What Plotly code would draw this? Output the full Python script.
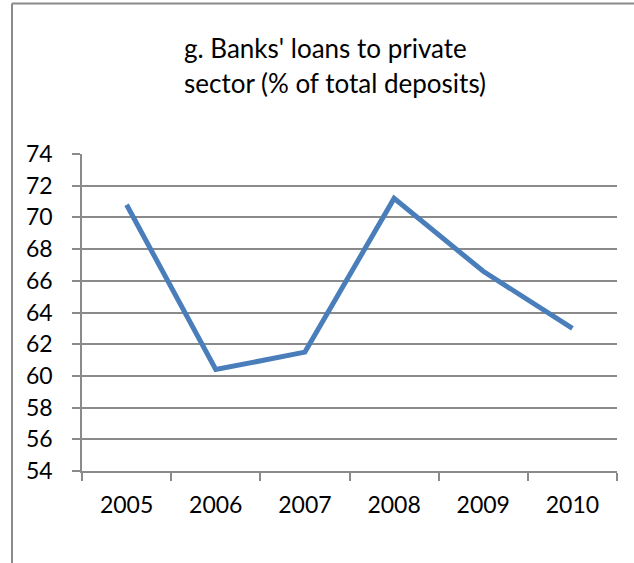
import plotly.graph_objects as go

# Data
years = ["2005", "2006", "2007", "2008", "2009", "2010"]
loans_pct = [70.8, 60.4, 61.5, 71.2, 66.6, 63.0]
y_ticks = [54, 56, 58, 60, 62, 64, 66, 68, 70, 72, 74]

W, H = 634, 563
ML, MR, MT, MB = 82, 17, 154, 92
pw, ph = W - ML - MR, H - MT - MB


def px_x(x):
    return (x - ML) / pw


def px_y(y):
    return (H - MB - y) / ph


FONT = "Lato"
GRID = "#8a8a8a"
TICK_SIZE = 23
TITLE_SIZE = 26

fig = go.Figure()
fig.add_trace(go.Scatter(
    x=years, y=loans_pct, mode="lines",
    line=dict(color="#4a7ebb", width=5),
    hoverinfo="skip", showlegend=False,
))

fig.update_layout(
    width=W, height=H,
    margin=dict(l=ML, r=MR, t=MT, b=MB),
    paper_bgcolor="white", plot_bgcolor="white",
    font=dict(family=FONT, size=TICK_SIZE, color="#000000"),
    showlegend=False,
    xaxis=dict(
        type="category", range=[-0.5, 5.5],
        showgrid=False, showline=True, linecolor=GRID, linewidth=1.5,
        ticks="outside", tickson="boundaries", ticklen=8, tickcolor=GRID, tickwidth=1.5,
        ticklabelstandoff=13,
        tickfont=dict(family=FONT, size=TICK_SIZE, color="#000000"),
        zeroline=False, fixedrange=True,
    ),
    yaxis=dict(
        range=[54, 74], tickmode="array", tickvals=y_ticks,
        ticktext=[str(v) for v in y_ticks],
        showgrid=True, gridcolor=GRID, gridwidth=1.5,
        showline=True, linecolor=GRID, linewidth=1.5,
        ticks="outside", ticklen=8, tickcolor=GRID, tickwidth=1.5,
        ticklabelstandoff=15,
        tickfont=dict(family=FONT, size=TICK_SIZE, color="#000000"),
        zeroline=False, fixedrange=True,
    ),
    annotations=[
        dict(text="g. Banks' loans to private", xref="paper", yref="paper",
             x=px_x(182), y=px_y(48), xanchor="left", yanchor="middle",
             showarrow=False, font=dict(family=FONT, size=TITLE_SIZE, color="#000000")),
        dict(text="sector (% of total deposits)", xref="paper", yref="paper",
             x=px_x(182), y=px_y(83), xanchor="left", yanchor="middle",
             showarrow=False, font=dict(family=FONT, size=TITLE_SIZE, color="#000000")),
    ],
    shapes=[
        # chart frame: top and left edges
        dict(type="line", xref="paper", yref="paper",
             x0=px_x(12), x1=px_x(W + 2), y0=px_y(3.5), y1=px_y(3.5),
             line=dict(color=GRID, width=2)),
        dict(type="line", xref="paper", yref="paper",
             x0=px_x(12), x1=px_x(12), y0=px_y(3.5), y1=px_y(H + 2),
             line=dict(color=GRID, width=2)),
    ],
)

fig.write_html("out.html")
